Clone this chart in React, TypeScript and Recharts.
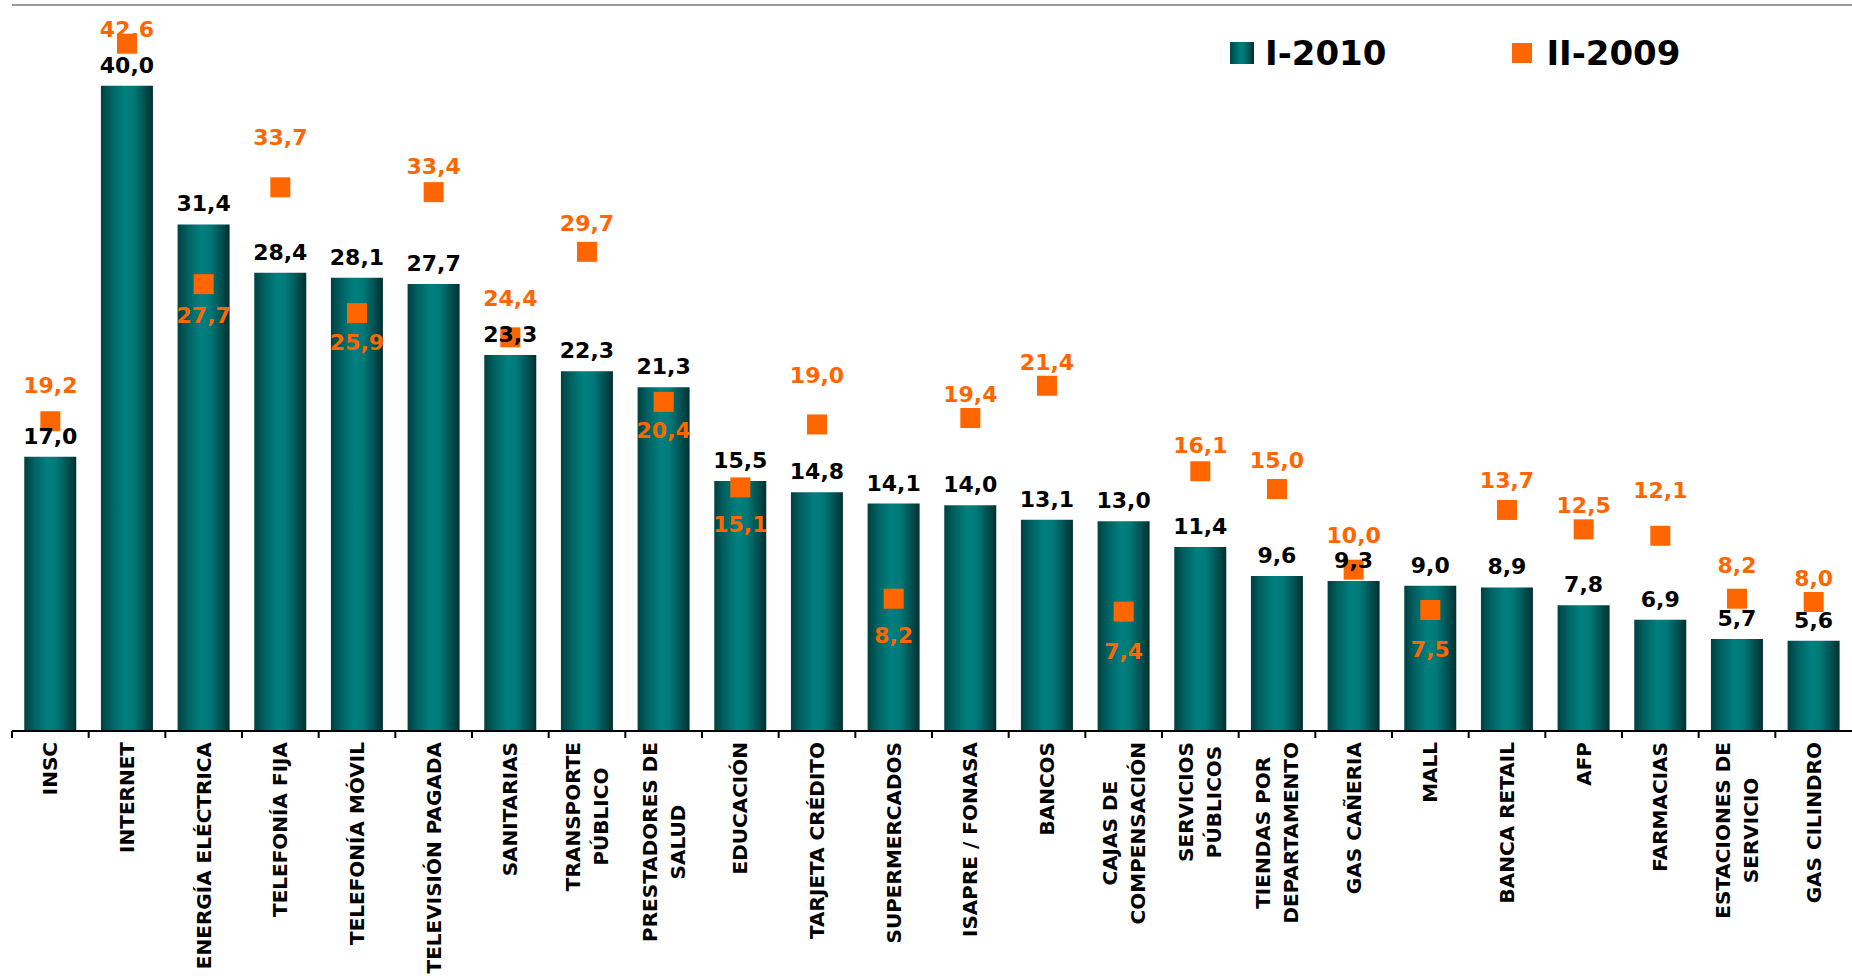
import React from 'react';
import {
  ComposedChart,
  Bar,
  Line,
  XAxis,
  YAxis,
  CartesianGrid,
  ReferenceLine,
  LabelList,
  Legend,
} from 'recharts';

// ---------- data ----------
const categories: string[] = [
  'INSC',
  'INTERNET',
  'ENERGÍA ELÉCTRICA',
  'TELEFONÍA FIJA',
  'TELEFONÍA MÓVIL',
  'TELEVISIÓN PAGADA',
  'SANITARIAS',
  'TRANSPORTE\nPÚBLICO',
  'PRESTADORES DE\nSALUD',
  'EDUCACIÓN',
  'TARJETA CRÉDITO',
  'SUPERMERCADOS',
  'ISAPRE / FONASA',
  'BANCOS',
  'CAJAS DE\nCOMPENSACIÓN',
  'SERVICIOS\nPÚBLICOS',
  'TIENDAS POR\nDEPARTAMENTO',
  'GAS CAÑERIA',
  'MALL',
  'BANCA RETAIL',
  'AFP',
  'FARMACIAS',
  'ESTACIONES DE\nSERVICIO',
  'GAS CILINDRO',
];

const seriesI2010: number[] = [
  17.0, 40.0, 31.4, 28.4, 28.1, 27.7, 23.3, 22.3, 21.3, 15.5, 14.8, 14.1,
  14.0, 13.1, 13.0, 11.4, 9.6, 9.3, 9.0, 8.9, 7.8, 6.9, 5.7, 5.6,
];

const seriesII2009: number[] = [
  19.2, 42.6, 27.7, 33.7, 25.9, 33.4, 24.4, 29.7, 20.4, 15.1, 19.0, 8.2,
  19.4, 21.4, 7.4, 16.1, 15.0, 10.0, 7.5, 13.7, 12.5, 12.1, 8.2, 8.0,
];

const seriesNames = { a: 'I-2010', b: 'II-2009' };

const yTicks: number[] = [0, 5, 10, 15, 20, 25, 30, 35, 40, 45];

// vertical offset (px) of each orange label baseline relative to its marker centre
const orangeLabelDy: number[] = [
  -28, -7, 39, -42, 37, -18, -31, -21, 36, 45, -41, 44, -16, -16, 47, -18,
  -21, -27, 47, -22, -16, -38, -26, -16,
];

const data = categories.map((name, i) => ({
  name,
  i2010: seriesI2010[i],
  ii2009: seriesII2009[i],
}));

// ---------- styles ----------
const FONT = '"DejaVu Sans", Verdana, sans-serif';
const ORANGE = '#FF6600';
const CHART_W = 1852;
const CHART_H = 976;

const fmt = (v: number) => v.toFixed(1).replace('.', ',');

let measureCtx: CanvasRenderingContext2D | null = null;
const measure = (s: string, font: string) => {
  if (!measureCtx) {
    measureCtx = document.createElement('canvas').getContext('2d');
  }
  if (!measureCtx) return s.length * 14;
  measureCtx.font = font;
  return measureCtx.measureText(s).width;
};

const XTick = (props: any) => {
  const { x, y, payload } = props;
  const half =
    payload && typeof payload.offset === 'number' && payload.offset > 0
      ? payload.offset
      : (CHART_W - 12) / categories.length / 2;
  const lines = String(payload.value).split('\n');
  const font = `bold 20px "DejaVu Sans"`;
  const maxW = Math.max(...lines.map((l) => measure(l, font)));
  const lineH = 28;
  return (
    <g>
      <line
        x1={x - half}
        x2={x - half}
        y1={y}
        y2={y + 7}
        stroke="#000"
        strokeWidth={2}
      />
      <g transform={`translate(${x},${y + 11}) rotate(-90)`}>
        {lines.map((l, i) => (
          <text
            key={i}
            x={-maxW / 2}
            y={(i - (lines.length - 1) / 2) * lineH + 7}
            textAnchor="middle"
            fontFamily={FONT}
            fontWeight="bold"
            fontSize={20}
            fill="#000"
          >
            {l}
          </text>
        ))}
      </g>
    </g>
  );
};

const BarValueLabel = (p: any) => {
  const vb = p.viewBox || {};
  const x = typeof p.x === 'number' ? p.x : vb.x;
  const y = typeof p.y === 'number' ? p.y : vb.y;
  const w = typeof p.width === 'number' ? p.width : vb.width;
  if (typeof x !== 'number' || typeof y !== 'number') return null;
  return (
    <text
      x={x + w / 2}
      y={y - 13}
      textAnchor="middle"
      fontFamily={FONT}
      fontWeight="bold"
      fontSize={22}
      fill="#000"
    >
      {fmt(Number(p.value))}
    </text>
  );
};

const SquareDot = (p: any) => {
  const { cx, cy, index, value } = p;
  if (typeof cx !== 'number' || typeof cy !== 'number') return <g key={`d-${index}`} />;
  const dy = orangeLabelDy[index] ?? -20;
  return (
    <g key={`d-${index}`}>
      <rect x={cx - 10} y={cy - 10} width={20} height={20} fill={ORANGE} />
      <text
        x={cx}
        y={cy + dy}
        textAnchor="middle"
        fontFamily={FONT}
        fontWeight="bold"
        fontSize={22}
        fill={ORANGE}
      >
        {fmt(Number(Array.isArray(value) ? value[1] : value))}
      </text>
    </g>
  );
};

const LegendContent = () => (
  <div
    style={{
      display: 'flex',
      alignItems: 'center',
      fontFamily: FONT,
      fontWeight: 'bold',
      fontSize: 34,
      lineHeight: '40px',
      color: '#000',
      whiteSpace: 'nowrap',
    }}
  >
    <span
      style={{
        display: 'inline-block',
        width: 24,
        height: 22,
        marginRight: 11,
        background:
          'linear-gradient(to right, #004545 0%, #008080 45%, #007575 60%, #003030 100%)',
      }}
    />
    <span>{seriesNames.a}</span>
    <span
      style={{
        display: 'inline-block',
        width: 20,
        height: 20,
        marginLeft: 126,
        marginRight: 14,
        background: ORANGE,
      }}
    />
    <span>{seriesNames.b}</span>
  </div>
);

export default function App() {
  return (
    <div
      style={{
        position: 'absolute',
        left: 0,
        top: 0,
        width: CHART_W,
        height: CHART_H,
        background: '#fff',
      }}
    >
      <svg width={0} height={0} style={{ position: 'absolute' }}>
        <defs>
          <linearGradient id="barGrad" x1="0" y1="0" x2="1" y2="0">
            <stop offset="0%" stopColor="#004040" />
            <stop offset="20%" stopColor="#006262" />
            <stop offset="45%" stopColor="#008080" />
            <stop offset="62%" stopColor="#007878" />
            <stop offset="85%" stopColor="#004e4e" />
            <stop offset="100%" stopColor="#003030" />
          </linearGradient>
        </defs>
      </svg>
      <ComposedChart
        width={CHART_W}
        height={CHART_H}
        data={data}
        margin={{ top: 5, right: 0, left: 12, bottom: 0 }}
        barCategoryGap="16%"
      >
        <CartesianGrid vertical={false} stroke="#C4C4C4" strokeWidth={2} />
        <XAxis
          dataKey="name"
          interval={0}
          height={245}
          tickLine={false}
          tickSize={0}
          tickMargin={0}
          axisLine={{ stroke: '#000', strokeWidth: 2 }}
          tick={<XTick />}
        />
        <YAxis
          width={0}
          domain={[0, 45]}
          ticks={yTicks}
          tick={false}
          tickLine={false}
          axisLine={{ stroke: '#9A9A9A', strokeWidth: 2 }}
        />
        <ReferenceLine y={45} stroke="#9A9A9A" strokeWidth={2} />
        <Legend
          layout="horizontal"
          verticalAlign="middle"
          align="center"
          content={<LegendContent />}
          wrapperStyle={{
            position: 'absolute',
            left: 1230,
            top: 33,
            width: 'auto',
            margin: 0,
          }}
        />
        <Bar
          dataKey="i2010"
          name={seriesNames.a}
          fill="url(#barGrad)"
          isAnimationActive={false}
        >
          <LabelList dataKey="i2010" content={<BarValueLabel />} />
        </Bar>
        <Line
          dataKey="ii2009"
          name={seriesNames.b}
          stroke="none"
          dot={SquareDot}
          activeDot={false}
          isAnimationActive={false}
        />
      </ComposedChart>
    </div>
  );
}
